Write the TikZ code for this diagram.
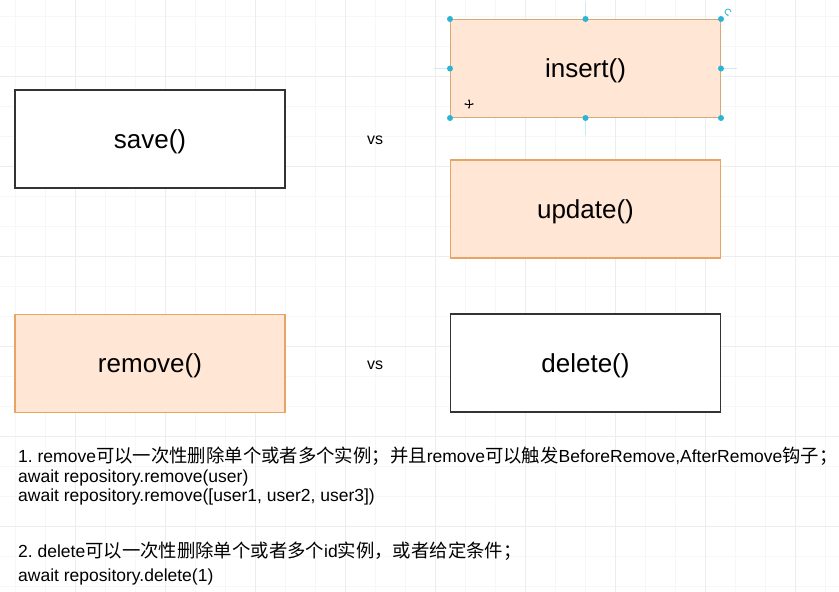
\documentclass[tikz,border=0pt]{standalone}
\usepackage{fontspec}
\setmainfont{Liberation Sans}
\newfontfamily\cjk[Scale=1.05]{Noto Sans CJK SC}
\usetikzlibrary{arrows.meta}
\frenchspacing
\definecolor{peach}{HTML}{FFE6D5}
\definecolor{peachline}{HTML}{E8A464}
\definecolor{selline}{HTML}{D9A877}
\definecolor{handle}{HTML}{2BB5D3}
\definecolor{boxline}{HTML}{333333}
\definecolor{gridminor}{HTML}{F7F7F7}
\definecolor{gridmajor}{HTML}{EDEDED}
\tikzset{
    plain-box/.style = {draw=boxline, fill=white, line width=1.3pt, minimum width=270pt, minimum height=98pt, text depth=0pt, font=\fontsize{26}{30}\selectfont},
    peach-box/.style = {plain-box, draw=peachline, fill=peach},
    vs-label/.style = {font=\fontsize{16}{19}\selectfont},
    note-line/.style = {anchor=west, inner sep=0pt, font=\fontsize{17.5}{20}\selectfont},
    sel-handle/.style = {fill=handle},
    sel-guide/.style = {draw=handle!25, line width=1.2pt},
}

\begin{document}
\begin{tikzpicture}[x=1pt, y=-1pt]
\useasboundingbox[fill=white] (0,0) rectangle (839,592);
% background grid
\foreach \gx in {15,45,...,839} \draw[gridminor] (\gx,0) -- (\gx,592);
\foreach \gy in {16.5,46.5,...,592} \draw[gridminor] (0,\gy) -- (839,\gy);
\foreach \gx in {75,165,...,839} \draw[gridmajor] (\gx,0) -- (\gx,592);
\foreach \gy in {76.5,166.5,...,592} \draw[gridmajor] (0,\gy) -- (839,\gy);

\node[plain-box] (save) at (150,139) {save()};
\node[vs-label] (vs-top) at (375,140) {vs};
\node[peach-box, draw=selline, line width=1pt] (insert) at (585.5,68.5) {insert()};
\node[peach-box] (update) at (585.5,209) {update()};

\node[peach-box] (remove) at (150,363.5) {remove()};
\node[vs-label] (vs-bottom) at (375,365) {vs};
\node[plain-box] (delete) at (585.5,363) {delete()};

% selection of insert()
\draw[sel-guide] (insert.west) -- ++(-16,0);
\draw[sel-guide] (insert.east) -- ++(16,0);
\draw[sel-guide] (insert.north) -- ++(0,-17);
\draw[sel-guide] (insert.south) -- ++(0,17);
\foreach \a in {north west, north, north east, east, south east, south, south west, west}
    \fill[sel-handle] (insert.\a) circle (3pt);
\draw[handle, line width=0.8pt, -{Stealth[length=2pt]}] (731,12) arc[start angle=0, end angle=290, radius=3pt];
\draw[{Stealth[length=2.5pt]}-{Stealth[length=2.5pt]}, line width=0.6pt] (464,104) -- (474,104);
\draw[{Stealth[length=2.5pt]}-{Stealth[length=2.5pt]}, line width=0.6pt] (469,99) -- (469,109);

% notes
\node[note-line] (note-one) at (18,456) {1. remove{\cjk 可以一次性删除单个或者多个实例；并且}remove{\cjk 可以触发}BeforeRemove,AfterRemove{\cjk 钩子；}};
\node[note-line] (note-two) at (18,478) {await repository.remove(user)};
\node[note-line] (note-three) at (18,497) {await repository.remove([user1, user2, user3])};
\node[note-line] (note-four) at (18,551) {2. delete{\cjk 可以一次性删除单个或者多个}id{\cjk 实例，或者给定条件；}};
\node[note-line] (note-five) at (18,577) {await repository.delete(1)};
\end{tikzpicture}
\end{document}
